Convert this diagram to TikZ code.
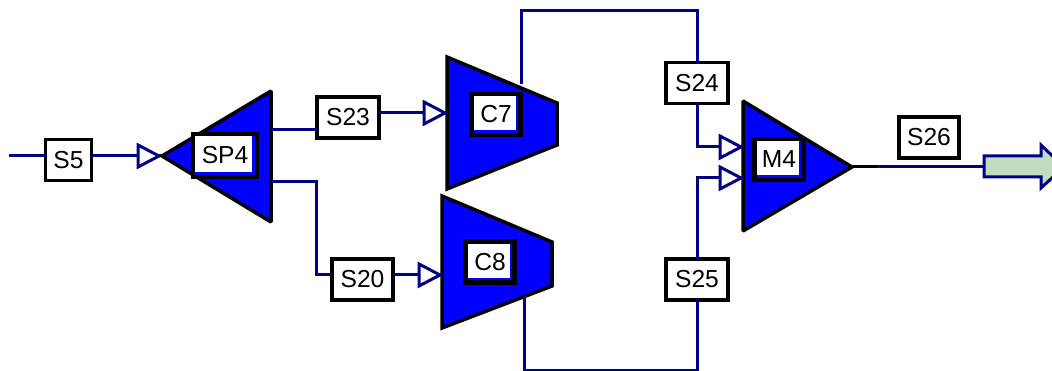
\documentclass[tikz,border=0pt]{standalone}
\usepackage{fontspec}
\setmainfont{Liberation Sans}
\definecolor{pipe}{RGB}{0,0,128}
\definecolor{unitblue}{RGB}{0,0,255}
\definecolor{feedgreen}{RGB}{192,220,192}
\tikzset{
	pipeline/.style={pipe,line width=0.06cm},
	unitbody/.style={draw=black,fill=unitblue,line width=0.07cm,miter limit=2},
	streambox/.style={draw=black,fill=white,line width=0.07cm,inner sep=0pt,outer sep=0pt,font=\fontsize{14}{14}\selectfont,minimum height=0.82cm},
	unitbox/.style={streambox,line width=0.085cm,minimum width=0.98cm,minimum height=0.82cm,fill=unitblue,
		path picture={\fill[white] (path picture bounding box.north west) rectangle ([xshift=-0.09cm,yshift=0.09cm]path picture bounding box.south east);}},
}
\newcommand{\mkstream}[4]{% #1: name, #2: x, #3: y, #4: width
	\node[streambox,minimum width=#4*0.02cm] (#1) at (#2,#3) {#1};
}
\newcommand{\mkinlet}[3]{% #1: name, #2: x of the open side, #3: y
	\coordinate (#1) at (#2,#3);
	\coordinate (#1tip) at (#2+21,#3);
	\draw[pipeline,fill=white] (#1) ++(0,-11) -- (#1tip) -- (#2,#3+11) -- cycle;
}
\begin{document}
\begin{tikzpicture}[x=0.02cm,y=-0.02cm]
	\clip (0,0) rectangle (1052,371);
	\fill[white] (0,0) rectangle (1052,371);

	% Unit bodies
	\draw[unitbody] (162,156) -- (271,91) -- (271,222) -- cycle;
	\draw[unitbody] (447,57) -- (557,103) -- (557,145) -- (447,189) -- cycle;
	\draw[unitbody] (442,196) -- (552,242) -- (552,286) -- (442,328) -- cycle;
	\draw[unitbody] (743,101) -- (852,167) -- (743,231) -- cycle;

	% Unit labels
	\node[unitbox,minimum width=1.28cm,minimum height=0.86cm] (SP4) at (225,155.5) {SP4};
	\node[unitbox] (C7) at (496,114.5) {C7};
	\node[unitbox] (C8) at (490,262) {C8};
	\node[unitbox] (M4) at (779,159.5) {M4};

	% Stream labels
	\mkstream{S5}{68.5}{160}{46}
	\mkstream{S23}{348}{117.5}{62}
	\mkstream{S20}{362.5}{279.5}{61}
	\mkstream{S24}{697}{83}{62}
	\mkstream{S25}{697}{279.5}{62}
	\mkstream{S26}{929}{137.5}{60}

	% Inlet marks
	\mkinlet{inA}{138}{156}
	\mkinlet{inB}{424}{113}
	\mkinlet{inC}{419}{275}
	\mkinlet{inD}{720}{147}
	\mkinlet{inE}{720}{178}

	% Free ends and ports
	\coordinate (feed) at (9,156);
	\coordinate (SP4up) at (271,130);
	\coordinate (SP4down) at (271,182);
	\coordinate (C7out) at (521,84);
	\coordinate (C8out) at (524,296);
	\coordinate (M4out) at (853,167);
	\coordinate (product) at (984,167);

	% Pipes
	\draw[pipeline] (feed) -- (S5.west |- feed);
	\draw[pipeline] (S5.east |- feed) -- (inA);
	\draw[line width=0.06cm] (inAtip) -- (162,156);
	\draw[pipeline] (SP4up) -- (S23.west |- SP4up);
	\draw[pipeline] (S23.east |- inB) -- (inB);
	\draw[pipeline] (inBtip) -- (447,113);
	\draw[pipeline] (SP4down) -| (316,275) -- (S20.west |- inC);
	\draw[pipeline] (S20.east |- inC) -- (inC);
	\draw[pipeline] (inCtip) -- (442,275);
	\draw[pipeline] (C7out) |- (697,11) -- (S24.north);
	\draw[pipeline] (C8out) |- (697,370) -- (S25.south);
	\draw[pipeline] (S24.south) |- (inD);
	\draw[pipeline] (S25.north) |- (inE);
	\draw[pipeline] (inDtip) -- (743,147);
	\draw[pipeline] (inEtip) -- (743,178);
	\draw[pipeline] (M4out) -- (product);
	\draw[line width=0.06cm] (M4out) -- (877,167);

	% Product arrow
	\draw[pipe,fill=feedgreen,line width=0.06cm] (product) ++(0,-11) -- (1041,156) -- (1041,145) -- (1064,167) -- (1041,188) -- (1041,177) -- (984,177) -- cycle;
\end{tikzpicture}
\end{document}
